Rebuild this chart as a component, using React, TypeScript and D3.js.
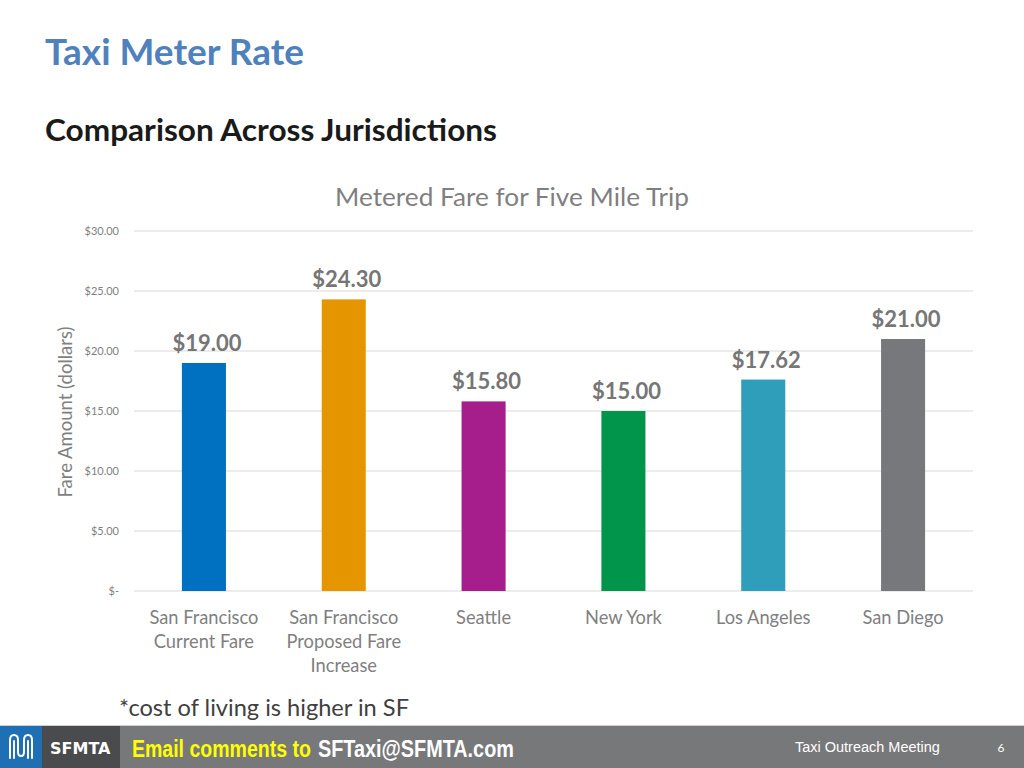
import React, { useLayoutEffect, useRef, useState } from "react";
import * as d3 from "d3";

const categories: string[][] = [
  ["San Francisco", "Current Fare"],
  ["San Francisco", "Proposed Fare", "Increase"],
  ["Seattle"],
  ["New York"],
  ["Los Angeles"],
  ["San Diego"],
];
const fares: number[] = [19.0, 24.3, 15.8, 15.0, 17.62, 21.0];
const barColors: string[] = ["#0070C0", "#E59500", "#A61E8C", "#00954A", "#2E9EBA", "#77787B"];
const yTicks: number[] = [0, 5, 10, 15, 20, 25, 30];
const yTickLabels: string[] = ["$-", "$5.00", "$10.00", "$15.00", "$20.00", "$25.00", "$30.00"];

const FONT = "Lato, 'Open Sans', sans-serif";

function FitText(props: {
  x: number;
  y: number;
  width: number;
  children: string;
  [k: string]: any;
}) {
  const { x, y, width, children, ...rest } = props;
  const ref = useRef<SVGTextElement>(null);
  const [sx, setSx] = useState(1);
  useLayoutEffect(() => {
    if (ref.current) {
      const w = ref.current.getComputedTextLength();
      if (w > 0) setSx(width / w);
    }
  }, [width, children]);
  return (
    <g transform={`translate(${x},${y}) scale(${sx},1)`}>
      <text ref={ref} x={0} y={0} {...rest}>
        {children}
      </text>
    </g>
  );
}

export default function App() {
  const W = 1024;
  const H = 768;
  const left = 134;
  const right = 973;
  const top = 231;
  const bottom = 591;

  const keys = categories.map((_, i) => String(i));
  const x = d3.scaleBand<string>().domain(keys).range([left, right]).padding(0);
  const y = d3.scaleLinear().domain([0, 30]).range([bottom, top]);
  const barW = x.bandwidth() * 0.315;
  const narrow = "'Liberation Sans Narrow', 'Arial Narrow', 'Liberation Sans', sans-serif";

  return (
    <svg width={W} height={H} style={{ position: "absolute", left: 0, top: 0, background: "#fff" }}>
      <rect x={0} y={0} width={W} height={H} fill="#fff" />
      {/* Titles */}
      <text x={45} y={65} fontFamily={FONT} fontWeight={700} fontSize={36.5} fill="#4F81BD" textLength={259} lengthAdjust="spacingAndGlyphs">
        Taxi Meter Rate
      </text>
      <text x={45} y={141} fontFamily={FONT} fontWeight={700} fontSize={30} fill="#1a1a1a" textLength={452} lengthAdjust="spacingAndGlyphs">
        Comparison Across Jurisdictions
      </text>
      <text x={512} y={206} textAnchor="middle" fontFamily={FONT} fontSize={25.5} fill="#7F7F7F" textLength={354} lengthAdjust="spacingAndGlyphs">
        Metered Fare for Five Mile Trip
      </text>

      {/* Gridlines and y ticks */}
      {yTicks.map((t, i) => (
        <g key={t}>
          <line x1={left} x2={right} y1={y(t)} y2={y(t)} stroke="#D9D9D9" strokeWidth={1} />
          <text
            x={119}
            y={y(t) + 4}
            textAnchor="end"
            fontFamily={FONT}
            fontSize={11}
            fill="#7F7F7F"
          >
            {yTickLabels[i]}
          </text>
        </g>
      ))}

      {/* Y axis title */}
      <text
        transform={`translate(72, ${(top + bottom) / 2 + 1}) rotate(-90)`}
        textAnchor="middle"
        fontFamily={FONT}
        fontSize={18.5}
        fill="#7F7F7F"
      >
        Fare Amount (dollars)
      </text>

      {/* Bars */}
      {fares.map((v, i) => {
        const cx = (x(String(i)) as number) + x.bandwidth() / 2;
        return (
          <g key={i}>
            <rect x={cx - barW / 2} y={y(v)} width={barW} height={y(0) - y(v)} fill={barColors[i]} />
            <text
              x={cx + 3}
              y={y(v) - 12}
              textAnchor="middle"
              fontFamily={FONT}
              fontWeight={700}
              fontSize={22}
              fill="#767676"
            >
              {"$" + v.toFixed(2)}
            </text>
            {categories[i].map((line, j) => (
              <text
                key={j}
                x={cx}
                y={624 + j * 24}
                textAnchor="middle"
                fontFamily={FONT}
                fontSize={18.3}
                fill="#7F7F7F"
              >
                {line}
              </text>
            ))}
          </g>
        );
      })}

      {/* Footnote */}
      <text x={119} y={716} fontFamily={FONT} fontSize={23.5} fill="#404040" textLength={290} lengthAdjust="spacingAndGlyphs">
        *cost of living is higher in SF
      </text>

      {/* Footer */}
      <line x1={0} x2={W} y1={725.5} y2={725.5} stroke="#D0D0D0" strokeWidth={1} />
      <rect x={0} y={726} width={W} height={42} fill="#77787A" />
      <rect x={0} y={726} width={42} height={42} fill="#1F6FB5" />
      <rect x={42} y={726} width={78} height={42} fill="#4A4B4D" />
      <g fill="none" stroke="#fff" strokeWidth={2} strokeLinecap="round">
        <path d="M10,758 L10,740 Q10,735 14,735 Q18,735 18,740 L18,752 Q18,756 21,756 Q24,756 24,752 L24,740 Q24,735 28,735 Q32,735 32,740 L32,758" />
        <path d="M14,758 L14,741 M28,758 L28,741" />
      </g>
      <text x={50} y={754} fontFamily="'DejaVu Sans', sans-serif" fontWeight={700} fontSize={16} fill="#fff">
        SFMTA
      </text>
      <FitText x={132} y={757} width={179} fontFamily={narrow} fontWeight={700} fontSize={24} fill="#FFFF00">
        Email comments to
      </FitText>
      <FitText x={318} y={757} width={196} fontFamily={narrow} fontWeight={700} fontSize={24} fill="#fff">
        SFTaxi@SFMTA.com
      </FitText>
      <FitText x={795} y={752} width={145} fontFamily={narrow} fontSize={14.5} fill="#fff">
        Taxi Outreach Meeting
      </FitText>
      <text x={1001} y={752} textAnchor="middle" fontFamily={FONT} fontSize={12} fill="#fff">
        6
      </text>
    </svg>
  );
}
